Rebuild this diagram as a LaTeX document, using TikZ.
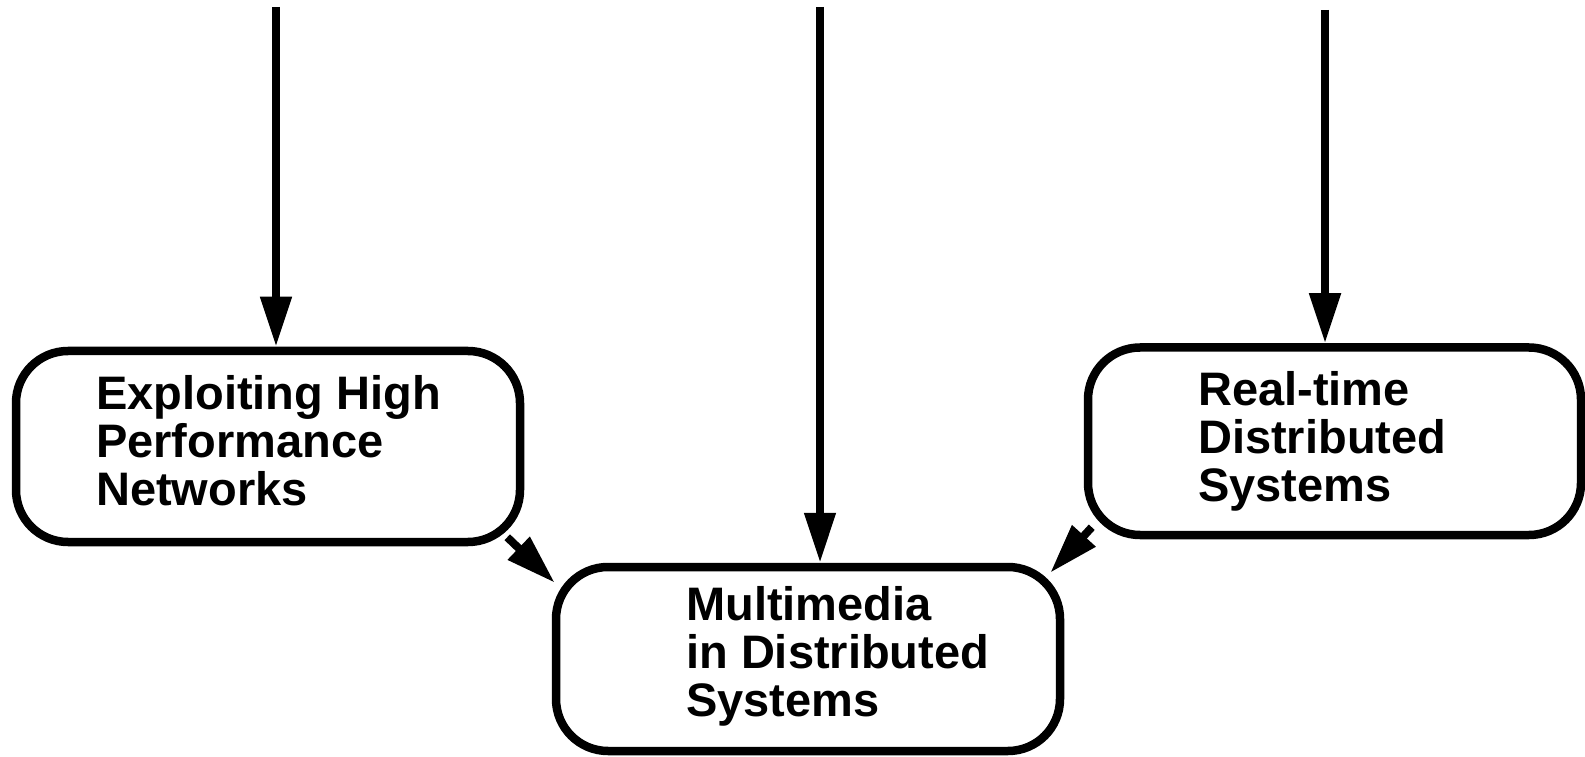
\documentclass[tikz,border=0pt]{standalone}
\usepackage{fontspec}
\setmainfont{Liberation Sans}
\usetikzlibrary{arrows.meta}
\begin{document}
\begin{tikzpicture}[x=1pt, y=1pt,
    box/.style={draw, line width=8.5pt, rounded corners=52pt, inner sep=0pt},
    lbl/.style={anchor=north west, inner sep=0pt, align=left, font=\fontsize{47}{48}\selectfont\bfseries},
    arr/.style={line width=8pt, -{Triangle[length=50pt, width=30pt]}}]
      \useasboundingbox (0, 0) rectangle (1585, 756);

      \node [box, minimum width=504, minimum height=191] (nets) at (268, 309.5) {};
      \node [box, minimum width=504, minimum height=184] (media) at (808, 97) {};
      \node [box, minimum width=493, minimum height=187.5] (rt) at (1334.5, 314.75) {};

      \node [lbl] (netsT) at (96, 381) {Exploiting High\\Performance\\Networks};
      \node [lbl] (mediaT) at (686, 170) {Multimedia\\in Distributed\\Systems};
      \node [lbl] (rtT) at (1198, 385) {Real-time\\Distributed\\Systems};

      \coordinate (inA) at (276, 749);
      \coordinate (inB) at (820, 749);
      \coordinate (inC) at (1325, 746);

      \draw [arr] (inA) -- (nets.north -| inA);
      \draw [arr] (inB) -- (media.north -| inB);
      \draw [arr] (inC) -- (rt.north -| inC);

      \draw [arr] ([shift={(-17, 9)}]nets.south east) -- ([shift={(3, -20)}]media.north west);
      \draw [arr] ([shift={(8, 12)}]rt.south west) -- ([shift={(-14, -10)}]media.north east);
    \end{tikzpicture}
\end{document}
